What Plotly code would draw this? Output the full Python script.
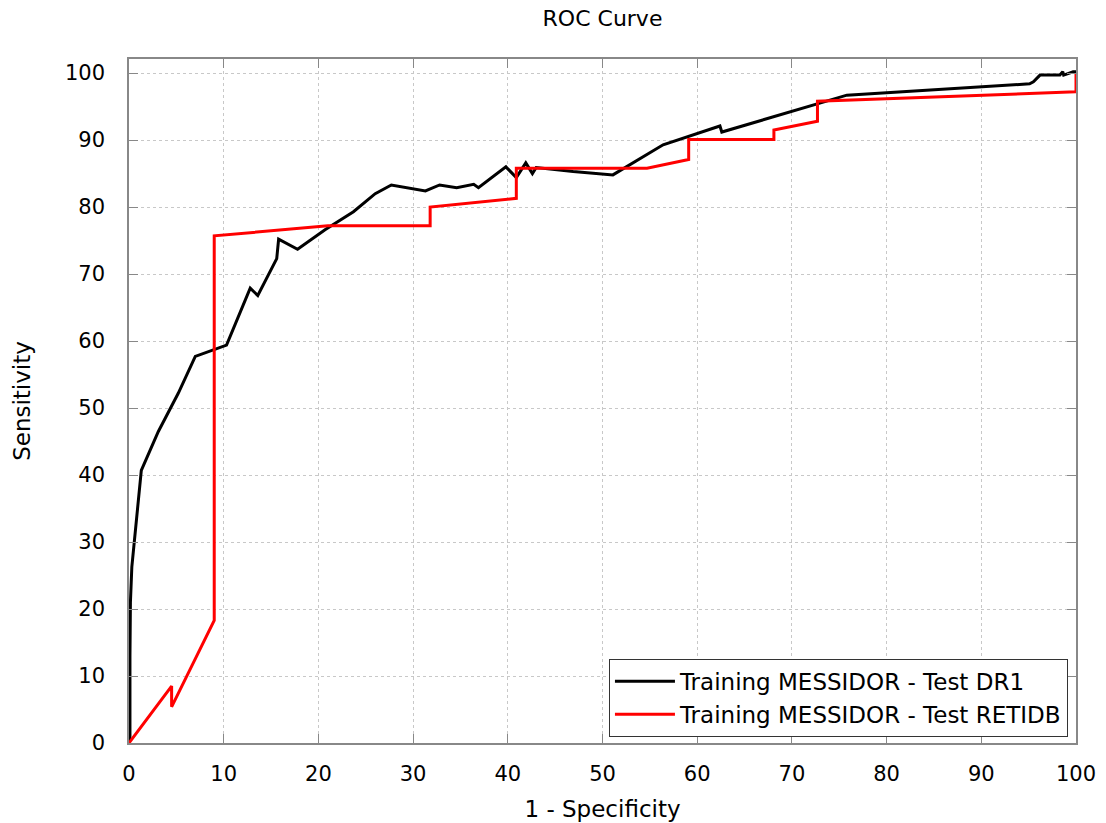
import plotly.graph_objects as go

# Data (1 - Specificity %, Sensitivity %)
dr1_x = [0, 0.1, 0.1, 0.15, 0.3, 1.3, 3.1, 5.2, 7.0, 10.3, 12.8, 13.6, 15.6, 15.8,
         17.8, 20.7, 23.7, 26.0, 27.7, 31.3, 32.8, 34.6, 36.4, 36.9, 39.8, 40.9,
         41.9, 42.6, 43.0, 46.9, 51.1, 56.4, 62.4, 62.6, 75.8, 95.1, 95.5, 96.2,
         98.3, 98.6, 98.7, 99.7, 100]
dr1_y = [0, 1.0, 13.0, 21.0, 26.3, 40.7, 46.5, 52.2, 57.7, 59.4, 67.9, 66.8, 72.3, 75.2,
         73.7, 76.6, 79.3, 82.0, 83.3, 82.4, 83.3, 82.9, 83.4, 82.9, 86.0, 84.4,
         86.6, 85.0, 85.9, 85.3, 84.8, 89.3, 92.1, 91.2, 96.7, 98.4, 98.7, 99.7,
         99.7, 100.2, 99.7, 100.2, 100.2]

retidb_x = [0, 4.5, 4.5, 9.0, 9.0, 21.0, 31.8, 31.8, 40.9, 40.9, 54.7, 59.1, 59.1,
            68.1, 68.1, 72.7, 72.7, 100, 100]
retidb_y = [0, 8.5, 5.4, 18.3, 75.7, 77.2, 77.2, 80.0, 81.3, 85.8, 85.8, 87.1, 90.1,
            90.1, 91.5, 92.8, 95.8, 97.2, 100]

x_ticks = [0, 10, 20, 30, 40, 50, 60, 70, 80, 90, 100]
y_ticks = [0, 10, 20, 30, 40, 50, 60, 70, 80, 90, 100]

FONT = "DejaVu Sans"

fig = go.Figure()
fig.add_trace(go.Scatter(x=dr1_x, y=dr1_y, mode="lines",
                         name="Training MESSIDOR - Test DR1",
                         line=dict(color="black", width=3)))
fig.add_trace(go.Scatter(x=retidb_x, y=retidb_y, mode="lines",
                         name="Training MESSIDOR - Test RETIDB",
                         line=dict(color="#ff0000", width=3)))

axis_common = dict(
    showline=True, linecolor="#888888", linewidth=1.5, mirror="ticks",
    ticks="inside", ticklen=9, tickcolor="#888888", tickwidth=1,
    showgrid=True, gridcolor="#c8c8c8", griddash="dot", gridwidth=1,
    zeroline=False, automargin=False,
    tickfont=dict(family=FONT, size=21, color="black"),
)

fig.update_layout(
    width=1106, height=823,
    margin=dict(l=129, r=30, t=59, b=80),
    paper_bgcolor="white", plot_bgcolor="white",
    font=dict(family=FONT, color="black"),
    title=dict(text="ROC Curve", x=0.5, xref="paper", xanchor="center",
               y=1 - 18 / 823, yanchor="middle", font=dict(family=FONT, size=22)),
    xaxis=dict(range=[0, 100], tickvals=x_ticks,
               title=dict(text="1 - Specificity", font=dict(family=FONT, size=23), standoff=16),
               ticklabelstandoff=11, **axis_common),
    yaxis=dict(range=[0, 102.1], tickvals=y_ticks,
               title=dict(text="Sensitivity", font=dict(family=FONT, size=23), standoff=28),
               ticklabelstandoff=18, **axis_common),
    legend=dict(x=0.9915, y=0.009, xanchor="right", yanchor="bottom",
                bordercolor="#333333", borderwidth=1, bgcolor="white",
                font=dict(family=FONT, size=23), tracegroupgap=0,
                itemwidth=60),
    showlegend=True,
)

fig.write_html("out.html")
